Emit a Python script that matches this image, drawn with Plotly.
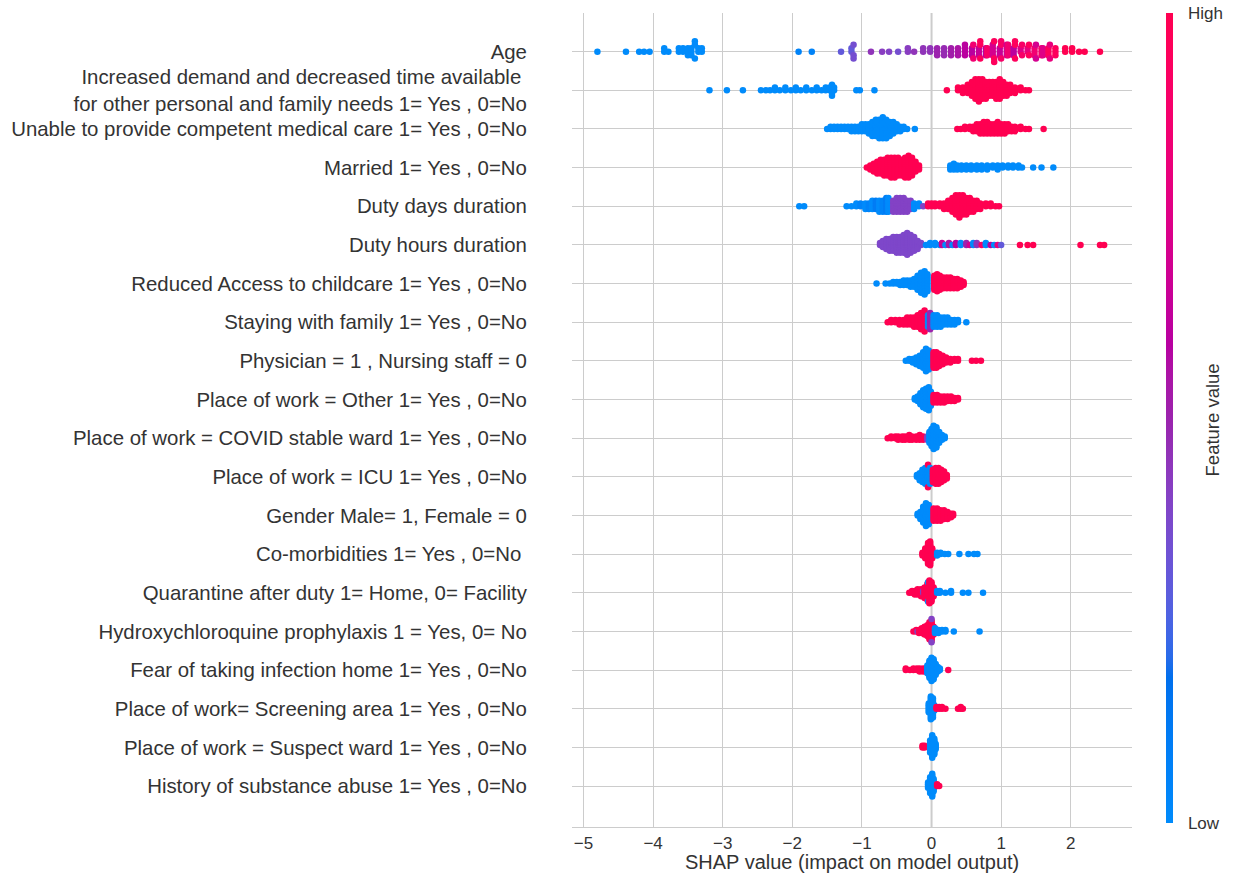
import math
import numpy as np
import plotly.graph_objects as go

# ---------------- data (top row first) ----------------
FEATURES = [
    "Age",
    "Increased demand and decreased time available <br>for other personal and family needs 1= Yes , 0=No",
    "Unable to provide competent medical care 1= Yes , 0=No",
    "Married 1= Yes , 0=No",
    "Duty days duration",
    "Duty hours duration",
    "Reduced Access to childcare 1= Yes , 0=No",
    "Staying with family 1= Yes , 0=No",
    "Physician = 1 , Nursing staff = 0",
    "Place of work = Other 1= Yes , 0=No",
    "Place of work = COVID stable ward 1= Yes , 0=No",
    "Place of work = ICU 1= Yes , 0=No",
    "Gender Male= 1, Female = 0",
    "Co-morbidities 1= Yes , 0=No ",
    "Quarantine after duty 1= Home, 0= Facility",
    "Hydroxychloroquine prophylaxis 1 = Yes, 0= No",
    "Fear of taking infection home 1= Yes , 0=No",
    "Place of work= Screening area 1= Yes , 0=No",
    "Place of work = Suspect ward 1= Yes , 0=No",
    "History of substance abuse 1= Yes , 0=No",
]

# each entry: (SHAP value, number of samples, normalised feature value)
AGE = [(-4.80,1,0.0),(-4.39,1,0.0),(-4.20,1,0.0),(-4.13,1,0.0),(-4.05,1,0.0),(-3.84,2,0.0),(-3.78,1,0.0),
       (-3.63,2,0.0),(-3.57,2,0.0),(-3.50,3,0.0),(-3.45,3,0.0),(-3.40,3,0.0),(-3.35,2,0.0),(-3.30,2,0.0),
       (-1.91,1,0.05),(-1.72,1,0.05),(-1.30,1,0.3),(-1.15,2,0.3),(-1.12,3,0.35),(-0.87,1,0.45),(-0.71,1,0.42),
       (-0.61,1,0.4),(-0.48,1,0.35),(-0.34,2,0.42),(-0.25,1,0.45),(-0.12,2,0.45),(-0.02,2,0.45),(0.08,3,0.5),
       (0.18,3,0.48),(0.28,3,0.52),(0.38,3,0.55),(0.48,4,0.6),(0.58,3,0.6),(0.60,2,0.85),(0.68,3,0.65),
       (0.70,3,0.95),(0.78,3,0.6),(0.80,3,0.9),(0.88,4,0.7),(0.90,3,0.95),(0.98,3,0.65),(1.00,3,0.9),
       (1.08,4,0.7),(1.10,4,0.85),(1.18,3,0.6),(1.20,3,0.95),(1.28,2,0.75),(1.30,2,0.9),(1.38,2,0.8),
       (1.40,2,0.95),(1.48,3,0.85),(1.50,2,0.7),(1.58,3,0.9),(1.60,3,0.75),(1.68,3,0.95),(1.70,2,0.8),
       (1.78,3,0.95),(1.92,2,1.0),(2.02,2,1.0),(2.12,1,1.0),(2.20,1,1.0),(2.42,1,1.0)]
DEMAND = [(-3.19,1,0.0),(-2.94,1,0.0),(-2.71,1,0.0),(-2.45,1,0.0),(-2.38,1,0.0),(-2.32,1,0.0),(-2.25,2,0.0),
          (-2.18,1,0.0),(-2.10,2,0.0),(-2.02,1,0.0),(-1.95,2,0.0),(-1.88,1,0.0),(-1.80,2,0.0),(-1.72,1,0.0),
          (-1.65,2,0.0),(-1.58,1,0.0),(-1.52,2,0.0),(-1.46,2,0.0),(-1.43,3,0.0),(-1.40,2,0.0),(-1.08,1,0.0),
          (-1.03,1,0.0),(-0.82,1,0.0),
          (0.22,1,1.0),(0.38,2,1.0),(0.45,3,1.0),(0.52,4,1.0),(0.58,6,1.0),(0.63,8,1.0),(0.68,9,1.0),
          (0.73,8,1.0),(0.78,7,1.0),(0.83,6,1.0),(0.88,6,1.0),(0.93,7,1.0),(0.98,8,1.0),(1.03,6,1.0),
          (1.08,5,1.0),(1.13,4,1.0),(1.20,3,1.0),(1.28,2,1.0),(1.35,1,1.0),(1.40,1,1.0)]
UNABLE = [(-1.50,1,0.0),(-1.45,2,0.0),(-1.40,2,0.0),(-1.35,2,0.0),(-1.30,2,0.0),(-1.25,2,0.0),(-1.20,2,0.0),
          (-1.15,3,0.0),(-1.10,3,0.0),(-1.05,3,0.0),(-1.00,4,0.0),(-0.95,4,0.0),(-0.90,5,0.0),(-0.85,7,0.0),
          (-0.80,8,0.0),(-0.75,9,0.0),(-0.70,10,0.0),(-0.65,9,0.0),(-0.60,7,0.0),(-0.55,6,0.0),(-0.50,4,0.0),
          (-0.45,3,0.0),(-0.40,2,0.0),(-0.35,1,0.0),(-0.24,1,0.0),
          (0.37,1,1.0),(0.42,1,1.0),(0.48,2,1.0),(0.55,2,1.0),(0.60,3,1.0),(0.65,4,1.0),(0.70,5,1.0),
          (0.75,6,1.0),(0.80,6,1.0),(0.85,5,1.0),(0.90,5,1.0),(0.95,6,1.0),(1.00,5,1.0),(1.05,5,1.0),
          (1.10,4,1.0),(1.15,3,1.0),(1.20,3,1.0),(1.28,2,1.0),(1.35,1,1.0),(1.40,1,1.0),(1.61,1,1.0)]
MARRIED = [(-0.93,1,1.0),(-0.88,3,1.0),(-0.83,5,1.0),(-0.78,7,1.0),(-0.73,8,1.0),(-0.68,9,1.0),(-0.63,10,1.0),
           (-0.58,11,1.0),(-0.53,11,1.0),(-0.48,10,1.0),(-0.43,9,1.0),(-0.38,11,1.0),(-0.33,12,1.0),
           (-0.28,10,1.0),(-0.23,6,1.0),(-0.18,3,1.0),
           (0.27,3,0.0),(0.32,4,0.0),(0.37,3,0.0),(0.43,3,0.0),(0.50,3,0.0),(0.57,3,0.0),(0.65,3,0.0),
           (0.72,3,0.0),(0.80,3,0.0),(0.88,2,0.0),(0.95,3,0.0),(1.02,2,0.0),(1.10,2,0.0),(1.17,2,0.0),
           (1.25,2,0.0),(1.30,1,0.0),(1.46,1,0.0),(1.58,1,0.0),(1.75,1,0.0)]
DUTY_DAYS = [(-1.90,1,0.0),(-1.83,1,0.0),(-1.22,1,0.0),(-1.15,1,0.0),(-1.08,2,0.0),(-1.02,2,0.05),
             (-0.95,3,0.0),(-0.90,3,0.05),(-0.85,4,0.0),(-0.80,4,0.1),(-0.75,5,0.0),(-0.70,5,0.05),
             (-0.65,6,0.1),(-0.62,6,0.0),(-0.55,5,0.4),(-0.50,6,0.4),(-0.45,6,0.4),(-0.40,6,0.4),
             (-0.35,5,0.4),(-0.30,4,0.4),(-0.25,3,0.0),(-0.18,2,0.0),(-0.12,1,0.4),(-0.05,2,1.0),
             (0.00,2,1.0),(0.05,2,1.0),(0.12,2,1.0),(0.18,3,1.0),(0.24,4,1.0),(0.30,6,1.0),(0.35,8,1.0),
             (0.40,9,1.0),(0.45,8,1.0),(0.50,7,1.0),(0.55,6,1.0),(0.60,5,1.0),(0.65,4,1.0),(0.70,3,1.0),
             (0.78,2,1.0),(0.85,2,1.0),(0.92,1,1.0),(0.97,1,1.0)]
DUTY_HOURS = [(-0.74,2,0.38),(-0.70,4,0.38),(-0.65,6,0.38),(-0.60,7,0.38),(-0.55,8,0.38),(-0.50,9,0.38),
              (-0.45,9,0.38),(-0.40,10,0.38),(-0.35,12,0.38),(-0.30,10,0.38),(-0.25,8,0.38),(-0.20,5,0.38),
              (-0.15,2,0.38),(-0.08,1,0.0),(-0.02,2,0.0),(0.05,2,0.0),(0.12,1,0.0),(0.15,2,0.65),(0.20,1,0.0),
              (0.25,2,0.55),(0.30,1,0.0),(0.35,2,0.6),(0.42,2,0.0),(0.50,2,0.5),(0.55,1,0.7),(0.60,2,0.0),
              (0.65,2,0.45),(0.72,1,0.9),(0.78,2,0.0),(0.85,1,0.6),(0.90,1,0.0),(0.95,1,0.8),(1.00,1,0.3),
              (1.27,1,1.0),(1.38,1,1.0),(1.46,1,1.0),(2.14,1,1.0),(2.42,1,1.0),(2.48,1,1.0)]
CHILDCARE = [(-0.79,1,0.0),(-0.66,1,0.0),(-0.60,1,0.0),(-0.55,2,0.0),(-0.50,2,0.0),(-0.45,3,0.0),(-0.40,4,0.0),
             (-0.35,4,0.0),(-0.30,5,0.0),(-0.25,6,0.0),(-0.20,10,0.0),(-0.15,14,0.0),(-0.10,16,0.0),(-0.06,12,0.0),
             (0.04,10,1.0),(0.08,12,1.0),(0.12,10,1.0),(0.17,8,1.0),(0.22,8,1.0),(0.27,8,1.0),(0.32,7,1.0),
             (0.37,7,1.0),(0.42,5,1.0),(0.46,3,1.0)]
FAMILY = [(-0.63,1,1.0),(-0.58,2,1.0),(-0.52,2,1.0),(-0.46,3,1.0),(-0.40,3,1.0),(-0.35,4,1.0),(-0.30,4,1.0),
          (-0.25,5,1.0),(-0.20,6,1.0),(-0.15,8,1.0),(-0.10,10,1.0),(-0.08,6,1.0),(-0.05,6,0.0),(-0.02,8,0.5),
          (0.03,6,0.0),(0.08,6,0.0),(0.13,5,0.0),(0.18,4,0.0),(0.23,4,0.0),(0.28,3,0.0),(0.33,3,0.0),
          (0.38,2,0.0),(0.50,1,0.0)]
PHYSICIAN = [(-0.37,1,0.0),(-0.32,2,0.0),(-0.27,3,0.0),(-0.22,5,0.0),(-0.17,7,0.0),(-0.12,10,0.0),(-0.08,14,0.0),
             (-0.04,12,0.0),(0.03,10,1.0),(0.07,10,1.0),(0.11,8,1.0),(0.16,6,1.0),(0.21,4,1.0),(0.27,3,1.0),
             (0.33,2,1.0),(0.38,2,1.0),(0.58,1,1.0),(0.64,1,1.0),(0.71,1,1.0)]
WORK_OTHER = [(-0.24,2,0.0),(-0.20,4,0.0),(-0.16,8,0.0),(-0.12,12,0.0),(-0.08,14,0.0),(-0.04,16,0.0),(-0.01,10,0.0),
              (0.03,6,1.0),(0.08,6,1.0),(0.13,5,1.0),(0.18,5,1.0),(0.23,4,1.0),(0.28,4,1.0),(0.33,3,1.0),(0.38,2,1.0)]
WORK_STABLE = [(-0.63,1,1.0),(-0.58,2,1.0),(-0.52,2,1.0),(-0.48,3,1.0),(-0.42,3,1.0),(-0.38,3,1.0),(-0.32,4,1.0),
               (-0.28,3,1.0),(-0.22,3,1.0),(-0.17,4,1.0),(-0.12,3,1.0),(-0.06,3,0.4),
               (-0.03,8,0.0),(0.00,12,0.0),(0.03,16,0.0),(0.07,14,0.0),(0.11,8,0.0),(0.15,4,0.0),(0.19,2,0.0)]
WORK_ICU = [(-0.21,2,0.0),(-0.17,5,0.0),(-0.13,8,0.0),(-0.09,10,0.0),(-0.05,12,0.0),(-0.05,2,1.0),(-0.02,10,0.0),
            (0.02,8,1.0),(0.06,10,1.0),(0.10,10,1.0),(0.14,8,1.0),(0.18,6,1.0),(0.22,3,1.0)]
GENDER = [(-0.20,2,0.0),(-0.16,5,0.0),(-0.12,10,0.0),(-0.08,14,0.0),(-0.04,12,0.0),(0.00,6,0.0),
          (0.03,8,1.0),(0.08,8,1.0),(0.13,7,1.0),(0.18,6,1.0),(0.23,5,1.0),(0.28,3,1.0),(0.31,2,1.0)]
COMORB = [(-0.13,3,1.0),(-0.09,8,1.0),(-0.05,16,1.0),(-0.02,18,1.0),(0.01,8,1.0),
          (0.08,3,0.0),(0.13,2,0.0),(0.19,1,0.0),(0.24,1,0.0),(0.40,1,0.0),(0.53,1,0.0),(0.61,1,0.0),(0.66,1,0.0)]
QUARANTINE = [(-0.32,1,1.0),(-0.28,2,1.0),(-0.24,3,1.0),(-0.20,4,1.0),(-0.15,5,1.0),(-0.12,2,0.4),(-0.10,7,1.0),
              (-0.06,10,1.0),(-0.05,2,0.0),(-0.03,14,1.0),(0.00,12,1.0),(0.03,6,1.0),
              (0.08,2,0.0),(0.12,2,0.0),(0.20,1,0.0),(0.28,2,0.0),(0.45,1,0.0),(0.53,1,0.0),(0.74,1,0.0)]
HCQ = [(-0.26,1,1.0),(-0.22,2,1.0),(-0.20,1,0.3),(-0.18,3,1.0),(-0.14,4,1.0),(-0.10,6,1.0),(-0.06,8,1.0),
       (-0.03,12,1.0),(0.00,14,1.0),(0.00,2,0.4),(0.03,6,1.0),
       (0.05,4,0.0),(0.10,3,0.0),(0.15,2,0.0),(0.20,2,0.0),(0.32,1,0.0),(0.69,1,0.0)]
FEAR = [(-0.37,2,1.0),(-0.31,1,1.0),(-0.26,2,1.0),(-0.21,2,1.0),(-0.17,3,1.0),(-0.12,3,1.0),(-0.08,3,1.0),
        (-0.06,6,0.0),(-0.03,12,0.0),(0.00,16,0.0),(0.03,14,0.0),(0.06,8,0.0),(0.09,4,0.0),(0.12,2,0.0),
        (0.24,1,1.0)]
SCREENING = [(-0.04,6,0.0),(-0.01,14,0.0),(0.02,12,0.0),(0.04,4,0.0),
             (0.07,2,1.0),(0.11,2,1.0),(0.15,2,1.0),(0.20,1,1.0),(0.38,1,1.0),(0.42,2,1.0),(0.45,1,1.0)]
SUSPECT = [(-0.13,2,1.0),(-0.10,2,1.0),(-0.02,8,0.0),(0.01,14,0.0),(0.04,10,0.0),(0.06,4,0.0)]
SUBSTANCE = [(-0.05,4,0.0),(-0.02,10,0.0),(0.01,14,0.0),(0.03,8,0.0),(0.08,2,1.0),(0.11,1,1.0)]

ROWS = [AGE, DEMAND, UNABLE, MARRIED, DUTY_DAYS, DUTY_HOURS, CHILDCARE, FAMILY, PHYSICIAN,
        WORK_OTHER, WORK_STABLE, WORK_ICU, GENDER, COMORB, QUARANTINE, HCQ, FEAR, SCREENING,
        SUSPECT, SUBSTANCE]

X_TICKS = [-5, -4, -3, -2, -1, 0, 1, 2]


# ---------------- shap red_blue colour map (LCH interpolation) ----------------
def lab_to_rgb(L, a, b):
    fy = (L + 16) / 116.0
    fx = fy + a / 500.0
    fz = fy - b / 200.0

    def finv(t):
        return t ** 3 if t ** 3 > 0.008856 else (t - 16 / 116.0) / 7.787

    X, Y, Z = 0.95047 * finv(fx), 1.0 * finv(fy), 1.08883 * finv(fz)
    r = 3.2406 * X - 1.5372 * Y - 0.4986 * Z
    g = -0.9689 * X + 1.8758 * Y + 0.0415 * Z
    bb = 0.0557 * X - 0.2040 * Y + 1.0570 * Z

    def gam(c):
        c = 1.055 * c ** (1 / 2.4) - 0.055 if c > 0.0031308 else 12.92 * c
        return min(max(c, 0.0), 1.0)

    return [int(round(255 * gam(v))) for v in (r, g, bb)]


blue_lch = [54.0, 70.0, 4.6588]
red_lch = [54.0, 90.0, 0.35470565 + 2 * math.pi]
l_mid = 40.0
nsteps = 40
l_vals = list(np.linspace(blue_lch[0], l_mid, nsteps // 2)) + list(np.linspace(l_mid, red_lch[0], nsteps // 2))
c_vals = np.linspace(blue_lch[1], red_lch[1], nsteps)
h_vals = np.linspace(blue_lch[2], red_lch[2], nsteps)
colorscale = []
for i in range(nsteps):
    r, g, b = lab_to_rgb(l_vals[i], c_vals[i] * math.cos(h_vals[i]), c_vals[i] * math.sin(h_vals[i]))
    colorscale.append([i / (nsteps - 1), f"rgb({r},{g},{b})"])


# ---------------- beeswarm layout (shap algorithm) ----------------
def swarm(xs, row_height=0.4, nbins=100):
    xs = np.asarray(xs, dtype=float)
    n = len(xs)
    span = xs.max() - xs.min()
    quant = np.round(nbins * (xs - xs.min()) / (span + 1e-8))
    inds = np.argsort(quant, kind="stable")
    layer, last_bin = 0, -1
    ys = np.zeros(n)
    for ind in inds:
        if quant[ind] != last_bin:
            layer = 0
        ys[ind] = math.ceil(layer / 2) * ((layer % 2) * 2 - 1)
        layer += 1
        last_bin = quant[ind]
    ys *= 0.9 * (row_height / np.max(ys + 1))
    return ys


all_x, all_y, all_c = [], [], []
n_rows = len(FEATURES)
for i, row in enumerate(ROWS):
    pos = n_rows - 1 - i
    xs, cs = [], []
    for x, cnt, c in row:
        xs += [x] * cnt
        cs += [c] * cnt
    ys = swarm(xs)
    all_x += xs
    all_y += list(pos + ys)
    all_c += cs

FONT = "Liberation Sans, Arial, sans-serif"
TXT = "#333333"

fig = go.Figure()
fig.add_trace(go.Scatter(
    x=all_x, y=all_y, mode="markers",
    marker=dict(size=6.5, color=all_c, colorscale=colorscale, cmin=0, cmax=1, line=dict(width=0),
                showscale=True,
                colorbar=dict(thickness=7, len=810, lenmode="pixels", x=1.0607, xanchor="left", xpad=0,
                              y=1.0, yanchor="top", ypad=0, outlinewidth=0,
                              tickvals=[0, 1], ticktext=["Low", "High"], ticks="outside", ticklen=12,
                              tickcolor="rgba(0,0,0,0)",
                              tickfont=dict(family=FONT, size=17, color=TXT))),
    hoverinfo="skip", showlegend=False,
))

fig.add_shape(type="line", xref="x", yref="paper", x0=0, x1=0, y0=0, y1=1,
              line=dict(color="#999999", width=1.5), layer="below")

fig.add_annotation(text="Feature value", xref="paper", yref="paper", x=1.166, y=0.5,
                   textangle=-90, showarrow=False, font=dict(family=FONT, size=18.5, color=TXT))
fig.add_annotation(text="SHAP value (impact on model output)", xref="paper", yref="paper",
                   x=0.5, y=-0.0432, yanchor="middle", showarrow=False,
                   font=dict(family=FONT, size=20, color=TXT))

fig.update_layout(
    width=1244, height=879,
    margin=dict(l=572, r=112, t=13, b=52, autoexpand=False),
    plot_bgcolor="white", paper_bgcolor="white",
    font=dict(family=FONT, color=TXT),
    xaxis=dict(range=[-5.165, 2.88], tickvals=X_TICKS, showgrid=True, gridcolor="#cccccc", gridwidth=1.2,
               zeroline=False, showline=True, linecolor="#cccccc", linewidth=1.3,
               ticks="", tickfont=dict(family=FONT, size=17, color=TXT), automargin=False),
    yaxis=dict(range=[-1.06, 20.0], tickvals=list(range(n_rows)), ticktext=FEATURES[::-1],
               showgrid=True, gridcolor="#cccccc", gridwidth=1.2, zeroline=False, showline=False,
               ticks="outside", ticklen=40, tickcolor="rgba(0,0,0,0)",
               tickfont=dict(family=FONT, size=20.4, color=TXT), automargin=False),
)

fig.write_html("out.html", config={"displayModeBar": False},
               post_script="document.body.style.margin='0';")
